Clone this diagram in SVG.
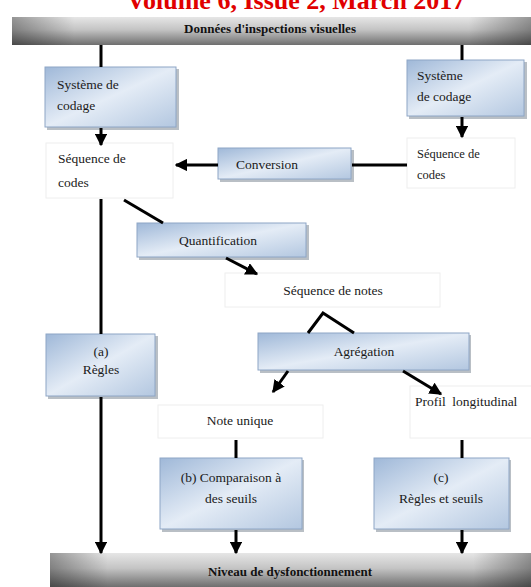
<svg xmlns="http://www.w3.org/2000/svg" width="531" height="587" viewBox="0 0 531 587">
<defs>
<linearGradient id="blue" x1="0" y1="0" x2="1" y2="1">
<stop offset="0" stop-color="#9fb8d8"/>
<stop offset="0.5" stop-color="#e4ecf6"/>
<stop offset="1" stop-color="#b3c7e0"/>
</linearGradient>
<linearGradient id="grey" x1="0" y1="0" x2="0" y2="1">
<stop offset="0" stop-color="#e6e6e6"/>
<stop offset="0.45" stop-color="#c4c4c4"/>
<stop offset="1" stop-color="#6e6e6e"/>
</linearGradient>
<linearGradient id="greyH" x1="0" y1="0" x2="1" y2="0">
<stop offset="0" stop-color="#000" stop-opacity="0.35"/>
<stop offset="0.12" stop-color="#000" stop-opacity="0"/>
<stop offset="0.88" stop-color="#000" stop-opacity="0"/>
<stop offset="1" stop-color="#000" stop-opacity="0.35"/>
</linearGradient>
<marker id="ah" viewBox="0 0 10 10" refX="9" refY="5" markerWidth="4.2" markerHeight="4.2" orient="auto" markerUnits="strokeWidth">
<path d="M0,0 L10,5 L0,10 z" fill="#000"/>
</marker>
</defs>
<style>
.t{font-family:"Liberation Serif","Times New Roman",serif;font-size:13.5px;fill:#1a1a1a}
.tb{font-family:"Liberation Serif","Times New Roman",serif;font-size:13px;font-weight:bold;fill:#111}
.bx{fill:url(#blue);stroke:#8ea6c6;stroke-width:1}
.sh{fill:#7f8a96;opacity:0.55}
.wb{fill:#fff;stroke:#eeeeee;stroke-width:1}
.c{stroke:#000;stroke-width:3;fill:none}
.ca{stroke:#000;stroke-width:3;fill:none;marker-end:url(#ah)}
</style>
<text x="296" y="9" text-anchor="middle" style="font-family:'Liberation Serif',serif;font-size:26px;font-weight:bold;fill:#e00000">Volume 6, Issue 2, March 2017</text>

<g id="top">
<rect x="12" y="17" width="519" height="28" fill="url(#grey)"/>
<rect x="12" y="17" width="519" height="28" fill="url(#greyH)"/>
<text class="tb" x="270" y="33" text-anchor="middle">Données d'inspections visuelles</text>
</g>

<g id="sys1">
<rect class="sh" x="47" y="69" width="132" height="61"/>
<rect class="bx" x="45" y="67" width="131" height="60"/>
<text class="t" x="57" y="89">Système de</text>
<text class="t" x="57" y="110">codage</text>
</g>

<g id="sys2">
<rect class="sh" x="409" y="62" width="118" height="57"/>
<rect class="bx" x="407" y="60" width="117" height="56"/>
<text class="t" x="417" y="80">Système</text>
<text class="t" x="417" y="101">de codage</text>
</g>

<g id="seq1">
<rect class="wb" x="46" y="143" width="127" height="55"/>
<text class="t" x="58" y="163">Séquence de</text>
<text class="t" x="58" y="187">codes</text>
</g>

<g id="seq2">
<rect class="wb" x="407" y="138" width="108" height="50"/>
<text class="t" x="417" y="158" style="font-size:12.5px">Séquence de</text>
<text class="t" x="417" y="179" style="font-size:12.5px">codes</text>
</g>

<g id="conversion">
<rect class="sh" x="220" y="150" width="134" height="32"/>
<rect class="bx" x="218" y="148" width="133" height="31"/>
<text class="t" x="267" y="169" text-anchor="middle">Conversion</text>
</g>

<g id="quantification">
<rect class="sh" x="139" y="225" width="170" height="35"/>
<rect class="bx" x="137" y="223" width="169" height="34"/>
<text class="t" x="218" y="245" text-anchor="middle">Quantification</text>
</g>

<g id="notes">
<rect class="wb" x="225" y="273" width="215" height="34"/>
<text class="t" x="333" y="295" text-anchor="middle">Séquence de notes</text>
</g>

<g id="regles">
<rect class="sh" x="48" y="336" width="110" height="63"/>
<rect class="bx" x="46" y="334" width="109" height="62"/>
<text class="t" x="101" y="356" text-anchor="middle">(a)</text>
<text class="t" x="101" y="374" text-anchor="middle">Règles</text>
</g>

<g id="agregation">
<rect class="sh" x="260" y="335" width="211" height="38"/>
<rect class="bx" x="258" y="333" width="211" height="37"/>
<text class="t" x="364" y="356" text-anchor="middle">Agrégation</text>
</g>

<g id="note">
<rect class="wb" x="158" y="405" width="165" height="33"/>
<text class="t" x="240" y="425" text-anchor="middle">Note unique</text>
</g>

<g id="profil">
<rect class="wb" x="410" y="386" width="125" height="52"/>
<text class="t" x="415" y="406" style="word-spacing:3px">Profil longitudinal</text>
</g>

<g id="comparaison">
<rect class="sh" x="162" y="460" width="142" height="72"/>
<rect class="bx" x="160" y="458" width="142" height="71"/>
<text class="t" x="231" y="482" text-anchor="middle">(b) Comparaison à</text>
<text class="t" x="231" y="503" text-anchor="middle">des seuils</text>
</g>

<g id="seuils">
<rect class="sh" x="376" y="460" width="135" height="72"/>
<rect class="bx" x="374" y="458" width="135" height="71"/>
<text class="t" x="441" y="482" text-anchor="middle">(c)</text>
<text class="t" x="441" y="503" text-anchor="middle">Règles et seuils</text>
</g>

<g id="bottom">
<rect x="50" y="553" width="481" height="34" fill="url(#grey)"/>
<rect x="50" y="553" width="481" height="34" fill="url(#greyH)"/>
<text class="tb" x="290" y="576" text-anchor="middle">Niveau de dysfonctionnement</text>
</g>

<g id="connectors">
<line class="c" x1="101" y1="45" x2="101" y2="67"/>
<line class="ca" x1="101" y1="128" x2="101" y2="145"/>
<line class="c" x1="462" y1="45" x2="462" y2="60"/>
<line class="ca" x1="462" y1="117" x2="462" y2="137"/>
<line class="c" x1="407" y1="165" x2="352" y2="165"/>
<line class="ca" x1="218" y1="165" x2="176" y2="165"/>
<line class="c" x1="101" y1="199" x2="101" y2="334"/>
<line class="ca" x1="101" y1="397" x2="101" y2="553"/>
<line class="c" x1="124" y1="200" x2="163" y2="223"/>
<line class="ca" x1="226" y1="258" x2="257" y2="274"/>
<polyline class="c" points="308,333 323,313 354,333"/>
<line class="ca" x1="288" y1="371" x2="273" y2="392"/>
<line class="ca" x1="403" y1="371" x2="441" y2="394"/>
<line class="c" x1="236" y1="440" x2="236" y2="458"/>
<line class="ca" x1="236" y1="530" x2="236" y2="553"/>
<line class="c" x1="462" y1="440" x2="462" y2="458"/>
<line class="ca" x1="462" y1="530" x2="462" y2="553"/>
</g>
</svg>
